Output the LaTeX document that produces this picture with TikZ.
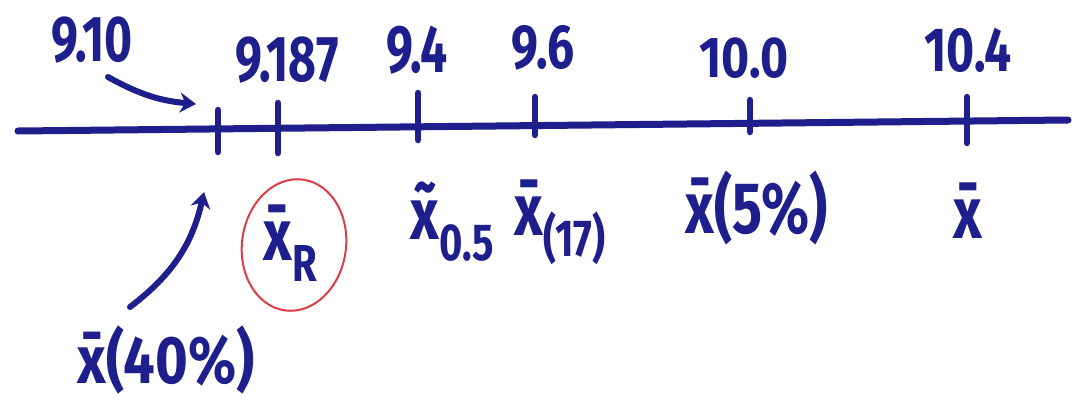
\documentclass[tikz,border=0pt]{standalone}
\usepackage{fontspec}
\setmainfont{Fira Sans}
\usetikzlibrary{arrows.meta}
\definecolor{ink}{RGB}{30,30,140}
\definecolor{redink}{RGB}{222,60,70}
\newcommand{\tallify}[2]{\scalebox{1}[#1]{#2}}
\newcommand{\lowsub}[1]{\raisebox{-16pt}{\fontsize{40}{40}\selectfont #1}}
\tikzset{
  axisline/.style={ink, line width=7pt, line cap=round},
  tickmark/.style={ink, line width=6.5pt, line cap=round},
  numlab/.style={ink, inner sep=0pt, font=\fontsize{48}{48}\selectfont\bfseries},
  symlab/.style={ink, inner sep=0pt, font=\fontsize{56}{56}\selectfont\bfseries},
  pointer/.style={ink, line width=6pt, line cap=round, -{Stealth[length=16pt,width=20pt]}},
  ring/.style={redink, line width=2pt},
}
\begin{document}
\begin{tikzpicture}[x=1pt,y=-1pt]
\useasboundingbox (0,0) rectangle (1078,408);
\fill[white] (0,0) rectangle (1078,408);
% axis
\coordinate (L) at (18,131);
\coordinate (R) at (1068,120);
\draw[axisline] (L) -- (R);
% ticks
\foreach \n/\x/\ya/\yb in {1/218/110/152,2/278/103/153,3/418/93/140,4/535/97/135,5/750/100/132,6/967/97/143}{
  \coordinate (t\n-a) at (\x,\ya);
  \coordinate (t\n-b) at (\x,\yb);
  \draw[tickmark] (t\n-a) -- (t\n-b);
}
% numbers above
\node[numlab] (n1) at (92,40) {\tallify{1.35}{9.10}};
\node[numlab] (n2) at (287,60) {\tallify{1.35}{9.187}};
\node[numlab] (n3) at (417,50) {\tallify{1.4}{9.4}};
\node[numlab] (n4) at (543,48) {\tallify{1.3}{9.6}};
\node[numlab] (n5) at (744,58) {\tallify{1.2}{10.0}};
\node[numlab] (n6) at (968,50) {\tallify{1.3}{10.4}};
% arrow from 9.10 to first tick
\coordinate (p1s) at (108,77);
\coordinate (p1e) at (196,104);
\draw[pointer] (p1s) to[bend right=12] (p1e);
% symbols below
\node[symlab] (s40) at (166,360) {\tallify{1.2}{\={x}(40\%)}};
\node[symlab] (sR) at (290,243) {\tallify{1.3}{\={x}\lowsub{R}}};
\node[symlab] (s05) at (452,222) {\tallify{1.3}{\~{x}\lowsub{0.5}}};
\node[symlab] (s17) at (560,222) {\tallify{1.3}{\={x}\lowsub{(17)}}};
\node[symlab] (s5) at (757,208) {\tallify{1.3}{\={x}(5\%)}};
\node[symlab] (sx) at (968,211) {\tallify{1.3}{\={x}}};
% red ring round x_R
\draw[ring] (sR.center) ++(4,2) ellipse [x radius=52, y radius=66, rotate=-8];
% arrow from x(40%) up to first tick
\coordinate (p2s) at (130,307);
\coordinate (p2e) at (204,192);
\draw[pointer] (p2s) to[bend right=20] (p2e);
\end{tikzpicture}
\end{document}
